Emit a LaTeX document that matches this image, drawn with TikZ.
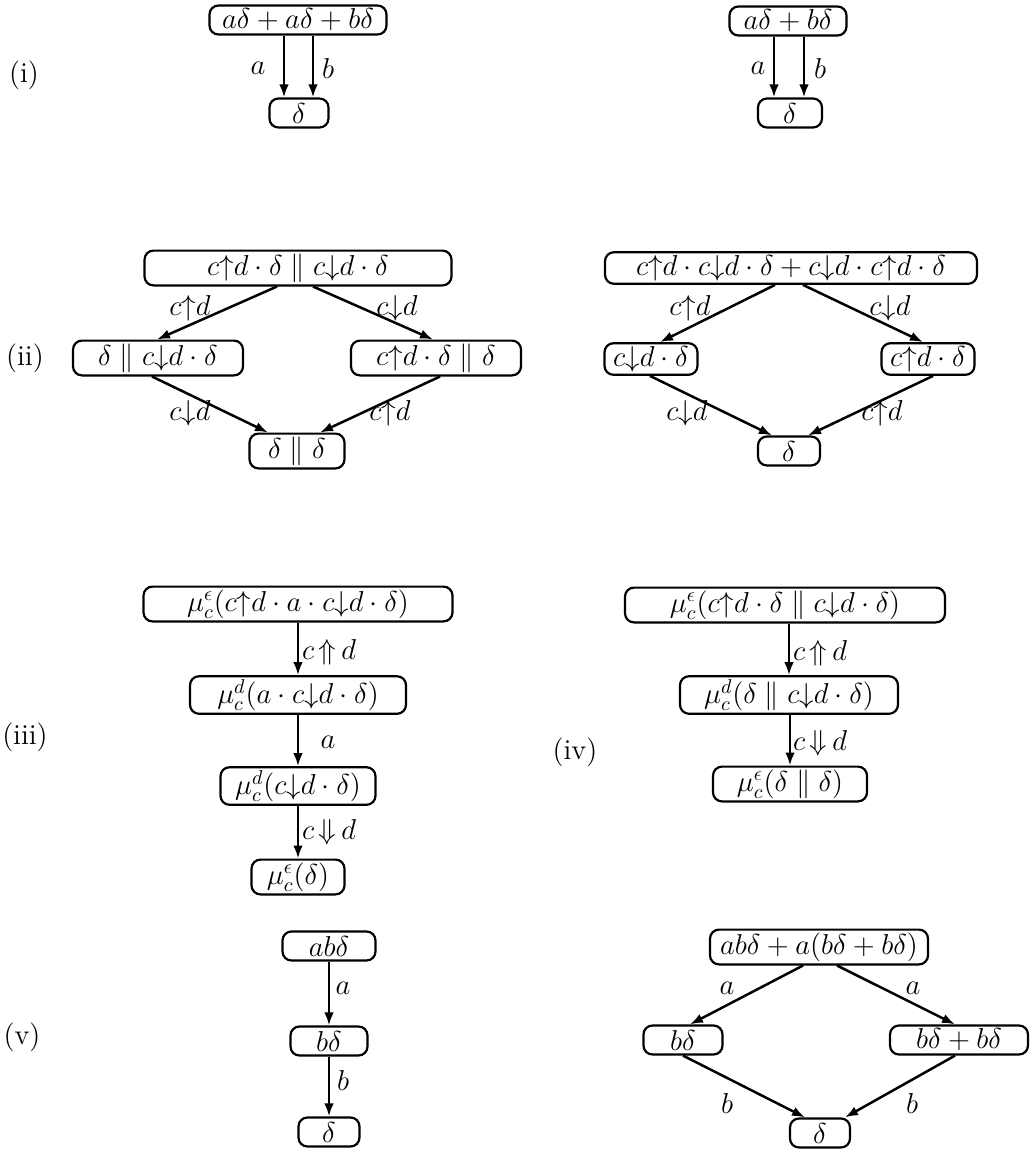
\documentclass[tikz,border=0pt]{standalone}
\usetikzlibrary{arrows.meta}
\newcommand{\cU}{{\uparrow}}
\newcommand{\cD}{{\downarrow}}
\newcommand{\cUU}{\,{\Uparrow}\,}
\newcommand{\cDD}{\,{\Downarrow}\,}
\begin{document}
\begin{tikzpicture}[x=0.5pt,y=-0.5pt,
  font=\fontsize{14.4}{17}\selectfont,
  bx/.style={draw, line width=1.1pt, rounded corners=4.5pt, minimum height=14.5pt, inner sep=1.5pt},
  arr/.style={line width=1.25pt, -{Latex[length=6.5pt,width=4.8pt]}},
  lbl/.style={inner sep=0pt}]
\useasboundingbox (0,0) rectangle (1033,1152);

% ---------- (i) ----------
\node (Li) at (24,75) {(i)};
\node[bx, minimum width=88.5pt] (i1t) at (298,20) {$a\delta+a\delta+b\delta$};
\node[bx, minimum width=29.5pt] (i1b) at (299,113) {$\delta$};
\draw[arr] ([xshift=-7.5pt]i1b.north |- i1t.south) -- ([xshift=-7.5pt]i1b.north);
\draw[arr] ([xshift=7pt]i1b.north |- i1t.south) -- ([xshift=7pt]i1b.north);
\node[lbl] (i1la) at (258,68) {$a$};
\node[lbl] (i1lb) at (328,68) {$b$};

\node[bx, minimum width=58.5pt] (i2t) at (788,21) {$a\delta+b\delta$};
\node[bx, minimum width=32pt] (i2b) at (790,113) {$\delta$};
\draw[arr] ([xshift=-8pt]i2b.north |- i2t.south) -- ([xshift=-8pt]i2b.north);
\draw[arr] ([xshift=7pt]i2b.north |- i2t.south) -- ([xshift=7pt]i2b.north);
\node[lbl] (i2la) at (758,68) {$a$};
\node[lbl] (i2lb) at (820,68) {$b$};

% ---------- (ii) ----------
\node (Lii) at (25,358) {(ii)};
\node[bx, minimum width=153.5pt] (ii1t) at (298,268) {$c\cU d\cdot\delta\parallel c\cD d\cdot\delta$};
\node[bx, minimum width=85pt] (ii1l) at (158,358) {$\delta\parallel c\cD d\cdot\delta$};
\node[bx, minimum width=85pt] (ii1r) at (436,358) {$c\cU d\cdot\delta\parallel\delta$};
\node[bx, minimum width=47.5pt] (ii1b) at (297,451) {$\delta\parallel\delta$};
\draw[arr] ([xshift=-10.5pt]ii1t.south) -- ([xshift=-0.5pt]ii1l.north);
\draw[arr] ([xshift=7.5pt]ii1t.south) -- ([xshift=-1.5pt]ii1r.north);
\draw[arr] ([xshift=-3pt]ii1l.south) -- ([xshift=-14.5pt]ii1b.north);
\draw[arr] ([xshift=2pt]ii1r.south) -- ([xshift=11.5pt]ii1b.north);
\node[lbl] (ii1a) at (190,308) {$c\cU d$};
\node[lbl] (ii1b2) at (397,308) {$c\cD d$};
\node[lbl] (ii1c) at (190,413) {$c\cD d$};
\node[lbl] (ii1d) at (390,413) {$c\cU d$};

\node[bx, minimum width=186pt] (ii2t) at (791,268) {$c\cU d\cdot c\cD d\cdot\delta+c\cD d\cdot c\cU d\cdot\delta$};
\node[bx, minimum width=46.5pt] (ii2l) at (651,359) {$c\cD d\cdot\delta$};
\node[bx, minimum width=46.5pt] (ii2r) at (928,359) {$c\cU d\cdot\delta$};
\node[bx, minimum width=31pt] (ii2b) at (789,451) {$\delta$};
\draw[arr] ([xshift=-8pt]ii2t.south) -- ([xshift=4.5pt]ii2l.north);
\draw[arr] ([xshift=6pt]ii2t.south) -- ([xshift=-2.5pt]ii2r.north);
\draw[arr] ([xshift=-0.5pt]ii2l.south) -- ([xshift=-8.5pt]ii2b.north);
\draw[arr] ([xshift=2.5pt]ii2r.south) -- ([xshift=9.5pt]ii2b.north);
\node[lbl] (ii2a) at (690,308) {$c\cU d$};
\node[lbl] (ii2b2) at (890,308) {$c\cD d$};
\node[lbl] (ii2c) at (687,413) {$c\cD d$};
\node[lbl] (ii2d) at (882,413) {$c\cU d$};

% ---------- (iii) ----------
\node (Liii) at (25,737) {(iii)};
\node[bx, minimum width=154.5pt] (iii1) at (298,604) {$\mu^\epsilon_c(c\cU d\cdot a\cdot c\cD d\cdot\delta)$};
\node[bx, minimum width=108pt] (iii2) at (298,695) {$\mu^d_c(a\cdot c\cD d\cdot\delta)$};
\node[bx, minimum width=77.5pt] (iii3) at (298,786) {$\mu^d_c(c\cD d\cdot\delta)$};
\node[bx, minimum width=46.5pt] (iii4) at (298,877) {$\mu^\epsilon_c(\delta)$};
\draw[arr] (iii1) -- (iii2);
\draw[arr] (iii2) -- (iii3);
\draw[arr] (iii3) -- (iii4);
\node[lbl] (iiia) at (329,652) {$c\cUU d$};
\node[lbl] (iiib) at (328,742) {$a$};
\node[lbl] (iiic) at (329,832) {$c\cDD d$};

% ---------- (iv) ----------
\node (Liv) at (575,752) {(iv)};
\node[bx, minimum width=160pt] (iv1) at (785,605) {$\mu^\epsilon_c(c\cU d\cdot\delta\parallel c\cD d\cdot\delta)$};
\node[bx, minimum width=109pt] (iv2) at (789,695) {$\mu^d_c(\delta\parallel c\cD d\cdot\delta)$};
\node[bx, minimum width=77pt] (iv3) at (790,784) {$\mu^\epsilon_c(\delta\parallel\delta)$};
\draw[arr] (iv1.south -| iv2.north) -- (iv2.north);
\draw[arr] (iv2.south -| iv3.north) -- (iv3.north);
\node[lbl] (iva) at (820,653) {$c\cUU d$};
\node[lbl] (ivb) at (820,743) {$c\cDD d$};

% ---------- (v) ----------
\node (Lv) at (22,1037) {(v)};
\node[bx, minimum width=46.5pt] (v1t) at (329,946) {$ab\delta$};
\node[bx, minimum width=38.5pt] (v1m) at (329,1041) {$b\delta$};
\node[bx, minimum width=30.5pt] (v1b) at (329,1132) {$\delta$};
\draw[arr] (v1t) -- (v1m);
\draw[arr] (v1m) -- (v1b);
\node[lbl] (v1a) at (343,988) {$a$};
\node[lbl] (v1b2) at (343,1080) {$b$};

\node[bx, minimum width=109pt] (v2t) at (819,947) {$ab\delta+a(b\delta+b\delta)$};
\node[bx, minimum width=39.5pt] (v2l) at (683,1040) {$b\delta$};
\node[bx, minimum width=69pt] (v2r) at (959,1040) {$b\delta+b\delta$};
\node[bx, minimum width=30pt] (v2b) at (820,1133) {$\delta$};
\draw[arr] ([xshift=-8pt]v2t.south) -- ([xshift=3.5pt]v2l.north);
\draw[arr] ([xshift=9pt]v2t.south) -- ([xshift=-2pt]v2r.north);
\draw[arr] (v2l.south) -- ([xshift=-7.5pt]v2b.north);
\draw[arr] ([xshift=-2pt]v2r.south) -- ([xshift=12.5pt]v2b.north);
\node[lbl] (v2a) at (727,988) {$a$};
\node[lbl] (v2a2) at (913,988) {$a$};
\node[lbl] (v2c) at (727,1103) {$b$};
\node[lbl] (v2d) at (912,1103) {$b$};
\end{tikzpicture}
\end{document}
